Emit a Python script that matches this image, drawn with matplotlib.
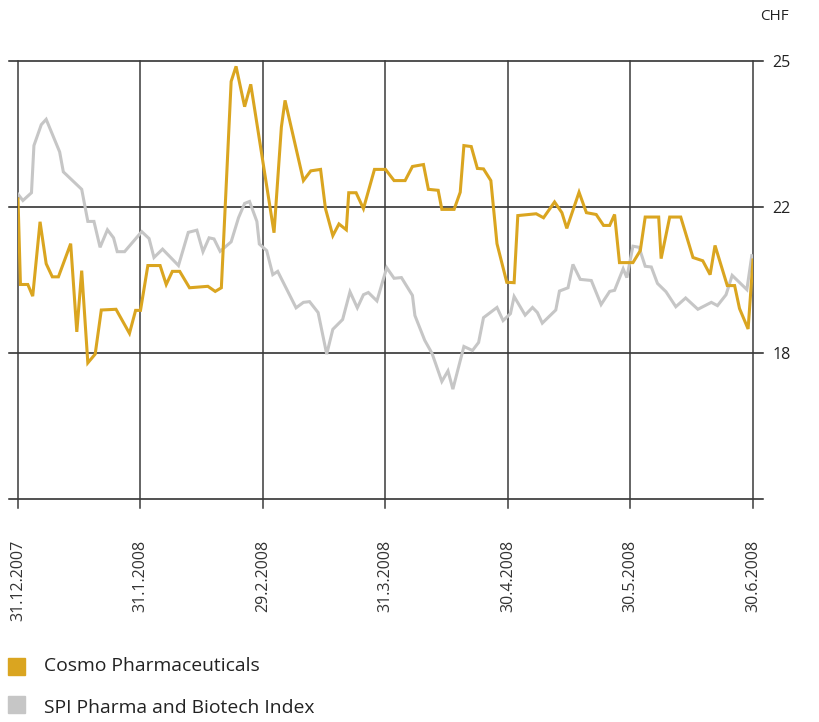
import numpy as np
import matplotlib
matplotlib.use('Agg')
import matplotlib.pyplot as plt
from matplotlib.patches import Rectangle

plt.rcParams['font.family'] = ['Open Sans', 'DejaVu Sans']

# month position (0 = 31.12.2007, 6 = 30.6.2008) and closing price in CHF
cosmo_t = [0.00, 0.02, 0.08, 0.12, 0.18, 0.23, 0.28, 0.33, 0.43, 0.48, 0.52, 0.57, 0.63, 0.68,
           0.80, 0.91, 0.96, 1.00, 1.06, 1.16, 1.21, 1.26, 1.32, 1.40, 1.55, 1.61, 1.66, 1.74,
           1.78, 1.85, 1.90, 2.09, 2.15, 2.18, 2.33, 2.39, 2.47, 2.51, 2.57, 2.62, 2.68, 2.70,
           2.76, 2.82, 2.91, 3.00, 3.07, 3.16, 3.22, 3.31, 3.35, 3.43, 3.46, 3.56, 3.61, 3.64,
           3.70, 3.75, 3.80, 3.86, 3.91, 3.99, 4.05, 4.08, 4.23, 4.29, 4.38, 4.44, 4.48, 4.58,
           4.64, 4.72, 4.78, 4.83, 4.87, 4.91, 5.02, 5.08, 5.12, 5.23, 5.25, 5.32, 5.41, 5.51,
           5.59, 5.65, 5.69, 5.79, 5.85, 5.89, 5.96, 6.00]
cosmo_chf = [22.16, 19.87, 19.87, 19.55, 21.59, 20.44, 20.08, 20.08, 20.99, 18.57, 20.25, 17.72,
             17.96, 19.17, 19.19, 18.53, 19.16, 19.16, 20.39, 20.39, 19.87, 20.23, 20.23, 19.78,
             19.82, 19.68, 19.78, 24.58, 24.89, 24.06, 24.52, 21.29, 23.64, 24.19, 22.54, 22.74,
             22.77, 21.95, 21.21, 21.53, 21.37, 22.29, 22.29, 21.95, 22.77, 22.77, 22.54, 22.54,
             22.83, 22.87, 22.36, 22.34, 21.93, 21.93, 22.30, 23.26, 23.24, 22.79, 22.78, 22.54,
             20.99, 19.93, 19.92, 21.76, 21.81, 21.70, 22.10, 21.84, 21.41, 22.30, 21.84, 21.79,
             21.49, 21.49, 21.79, 20.47, 20.47, 20.80, 21.72, 21.72, 20.58, 21.72, 21.72, 20.61,
             20.52, 20.14, 20.94, 19.84, 19.84, 19.21, 18.65, 20.54]

spi_t = [0.00, 0.04, 0.11, 0.13, 0.19, 0.23, 0.34, 0.37, 0.52, 0.57, 0.62, 0.67, 0.73, 0.78,
         0.81, 0.87, 1.01, 1.07, 1.11, 1.18, 1.31, 1.39, 1.46, 1.51, 1.56, 1.60, 1.65, 1.74,
         1.80, 1.85, 1.89, 1.95, 1.97, 2.03, 2.08, 2.12, 2.27, 2.33, 2.38, 2.45, 2.52, 2.57,
         2.65, 2.71, 2.77, 2.82, 2.86, 2.93, 3.01, 3.07, 3.13, 3.22, 3.24, 3.32, 3.38, 3.46,
         3.51, 3.55, 3.64, 3.71, 3.76, 3.80, 3.91, 3.96, 4.02, 4.05, 4.14, 4.20, 4.24, 4.28,
         4.39, 4.42, 4.49, 4.53, 4.59, 4.68, 4.76, 4.83, 4.87, 4.94, 4.97, 5.02, 5.07, 5.12,
         5.17, 5.22, 5.29, 5.37, 5.45, 5.55, 5.66, 5.71, 5.78, 5.83, 5.95, 5.99]
spi_chf = [22.26, 22.13, 22.29, 23.26, 23.69, 23.80, 23.13, 22.72, 22.36, 21.60, 21.60, 20.89,
           21.37, 21.15, 20.77, 20.77, 21.32, 21.13, 20.61, 20.84, 20.39, 21.30, 21.36, 20.77,
           21.15, 21.12, 20.78, 21.04, 21.70, 22.07, 22.11, 21.60, 20.98, 20.80, 20.14, 20.23,
           19.23, 19.38, 19.40, 19.10, 17.96, 18.64, 18.91, 19.67, 19.23, 19.59, 19.65, 19.42,
           20.33, 20.04, 20.06, 19.57, 19.02, 18.34, 17.98, 17.21, 17.50, 17.00, 18.17, 18.06,
           18.28, 18.96, 19.24, 18.88, 19.07, 19.54, 19.03, 19.24, 19.10, 18.81, 19.17, 19.69,
           19.78, 20.42, 20.01, 19.98, 19.32, 19.68, 19.71, 20.30, 20.06, 20.92, 20.89, 20.37,
           20.35, 19.90, 19.67, 19.26, 19.50, 19.19, 19.38, 19.29, 19.59, 20.12, 19.73, 20.66]

date_labels = ['31.12.2007', '31.1.2008', '29.2.2008', '31.3.2008',
               '30.4.2008', '30.5.2008', '30.6.2008']
y_ticks = [14, 18, 22, 25]
y_tick_labels = ['', '18', '22', '25']

orange = '#DAA520'
grey = '#C6C6C6'

fig = plt.figure(figsize=(8.2, 7.22), dpi=100)
W, H = 820, 722
ax = fig.add_axes([18 / W, 1 - 498.5 / H, 735 / W, 437.5 / H])

# gridlines sit equally spaced although the labels are not
ax.set_yscale('function', functions=(lambda v: np.interp(v, y_ticks, [0, 1, 2, 3]),
                                     lambda p: np.interp(p, [0, 1, 2, 3], y_ticks)))
ax.set_ylim(14, 25)
ax.set_xlim(0, 6)

for v in y_ticks:
    ax.axhline(v, xmin=-9 / 735, xmax=1 + 10 / 735, color='#222222', lw=1.1, clip_on=False, zorder=1)
for i in range(len(date_labels)):
    ax.axvline(i, ymin=-9.5 / 437.5, ymax=1, color='#3a3a3a', lw=1.1, clip_on=False, zorder=1)

ax.plot(spi_t, spi_chf, color=grey, lw=2.2, zorder=2, solid_joinstyle='miter')
ax.plot(cosmo_t, cosmo_chf, color=orange, lw=2.2, zorder=3, solid_joinstyle='miter')

for s in ax.spines.values():
    s.set_visible(False)

ax.set_xticks(range(len(date_labels)))
ax.set_xticklabels(date_labels, rotation=90, fontsize=11.5, color='#333333')
ax.tick_params(axis='x', length=0, pad=30)

ax.yaxis.tick_right()
ax.set_yticks(y_ticks)
ax.set_yticklabels(y_tick_labels, fontsize=11.5, color='#222222')
ax.tick_params(axis='y', length=0, pad=14)
ax.yaxis.set_minor_locator(matplotlib.ticker.NullLocator())

fig.text(760 / W, 1 - 16 / H, 'CHF', fontsize=11, color='#222222', va='center', ha='left')

# legend
fig.add_artist(Rectangle((8 / W, 1 - 675 / H), 17 / W, 17 / H, transform=fig.transFigure, color=orange))
fig.text(44 / W, 1 - 666 / H, 'Cosmo Pharmaceuticals', fontsize=13.9, color='#222222', va='center')
fig.add_artist(Rectangle((8 / W, 1 - 713 / H), 17 / W, 17 / H, transform=fig.transFigure, color=grey))
fig.text(44 / W, 1 - 708 / H, 'SPI Pharma and Biotech Index', fontsize=13.9, color='#222222', va='center')

fig.savefig('out.png', dpi=100)
